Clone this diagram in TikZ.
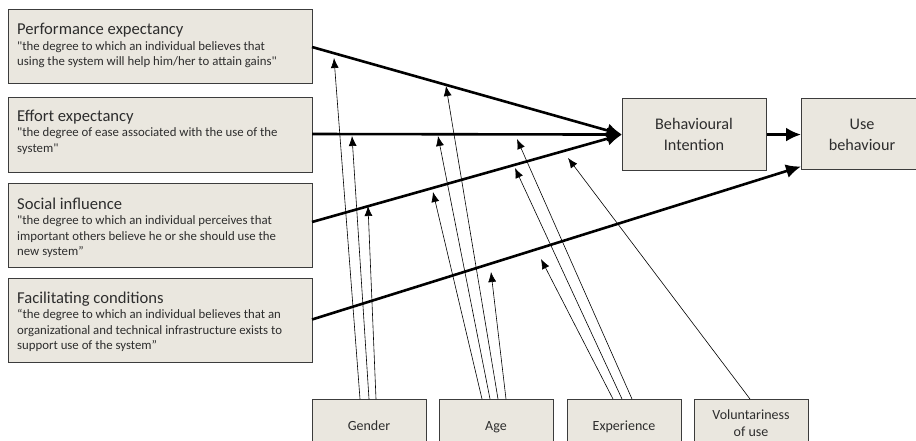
\documentclass[tikz,border=0pt]{standalone}
\usepackage{fontspec}
\setmainfont{Carlito}[Ligatures=TeXOff]
\usetikzlibrary{arrows.meta}
\definecolor{boxfill}{RGB}{234,231,223}
\definecolor{boxline}{RGB}{60,60,60}
\definecolor{txt}{RGB}{45,45,45}
\begin{document}
\begin{tikzpicture}[x=1pt,y=-1pt,
  box/.style={draw=boxline,line width=1.1pt,fill=boxfill,inner sep=0pt,anchor=north west},
  ttl/.style={anchor=base west,inner sep=0pt,text=txt,font=\fontsize{16.6}{19}\selectfont},
  qt/.style={anchor=base west,inner sep=0pt,text=txt,font=\fontsize{12.8}{15}\selectfont},
  lbl/.style={anchor=base,inner sep=0pt,text=txt,font=\fontsize{16.2}{19}\selectfont},
  slbl/.style={anchor=base,inner sep=0pt,text=txt,font=\fontsize{14}{17}\selectfont},
  thick arrow/.style={line width=2.6pt,-{Latex[length=15pt,width=14pt]}},
  thin arrow/.style={line width=0.6pt,-{Latex[length=10pt,width=8pt]}}]
\clip (0,0) rectangle (916,440);
\useasboundingbox (0,0) rectangle (916,440);

% left boxes
\node[box,minimum width=304pt,minimum height=74pt] (pe) at (8,9) {};
\node[box,minimum width=304pt,minimum height=75pt] (ee) at (8,97) {};
\node[box,minimum width=304pt,minimum height=84pt] (si) at (8,183) {};
\node[box,minimum width=304pt,minimum height=84pt] (fc) at (8,278) {};

\node[ttl] (pet) at (17,34) {Performance expectancy};
\node[qt] (peq1) at (17,50) {"the degree to which an individual believes that};
\node[qt] (peq2) at (17,65.5) {using the system will help him/her to attain gains"};

\node[ttl] (eet) at (17,121) {Effort expectancy};
\node[qt] (eeq1) at (17,136.5) {"the degree of ease associated with the use of the};
\node[qt] (eeq2) at (17,152) {system"};

\node[ttl] (sit) at (17,209) {Social influence};
\node[qt] (siq1) at (17,224.5) {"the degree to which an individual perceives that};
\node[qt] (siq2) at (17,240) {important others believe he or she should use the};
\node[qt] (siq3) at (17,255.5) {new system”};

\node[ttl] (fct) at (17,303) {Facilitating conditions};
\node[qt] (fcq1) at (17,318.5) {“the degree to which an individual believes that an};
\node[qt] (fcq2) at (17,334) {organizational and technical infrastructure exists to};
\node[qt] (fcq3) at (17,349.5) {support use of the system”};

% right boxes
\node[box,minimum width=144pt,minimum height=72pt] (bi) at (622,98) {};
\node[lbl] (bit1) at (694,129) {Behavioural};
\node[lbl] (bit2) at (694,150) {Intention};
\node[box,minimum width=122pt,minimum height=71pt] (ub) at (801,98) {};
\node[lbl] (ubt1) at (862,129) {Use};
\node[lbl] (ubt2) at (862,150) {behaviour};

% bottom boxes
\node[box,minimum width=114pt,minimum height=60pt] (gd) at (312,399) {};
\node[box,minimum width=114pt,minimum height=60pt] (ag) at (439,399) {};
\node[box,minimum width=114pt,minimum height=60pt] (ex) at (567,399) {};
\node[box,minimum width=114pt,minimum height=60pt] (vu) at (694,399) {};
\node[slbl] (gdt) at (369,430) {Gender};
\node[slbl] (agt) at (496,430) {Age};
\node[slbl] (ext) at (624,430) {Experience};
\node[slbl] (vut1) at (751,419) {Voluntariness};
\node[slbl] (vut2) at (751,436) {of use};

% main arrows
\coordinate (pes) at (312,47);
\coordinate (ees) at (312,134);
\coordinate (sis) at (312,222);
\coordinate (fcs) at (312,319.5);
\coordinate (ubin) at (801,166.5);
\draw[thick arrow] (pes) -- (bi.west);
\draw[thick arrow] (ees) -- (bi.west);
\draw[thick arrow] (sis) -- (bi.west);
\draw[thick arrow] (bi.east) -- (bi.east -| ub.west);
\draw[thick arrow] (fcs) -- (ubin);

% moderator arrows
\coordinate (g1) at (360,399); \coordinate (tg1) at (334,58);
\coordinate (g2) at (369,399); \coordinate (tg2) at (352,136);
\coordinate (g3) at (376,399); \coordinate (tg3) at (368,206);
\coordinate (a1) at (498,399); \coordinate (ta1) at (446,86);
\coordinate (a2) at (490,399); \coordinate (ta2) at (438,136);
\coordinate (a3) at (482,399); \coordinate (ta3) at (433,192);
\coordinate (a4) at (506,399); \coordinate (ta4) at (491,272);
\coordinate (e1) at (632,399); \coordinate (te1) at (517,139);
\coordinate (e2) at (622,399); \coordinate (te2) at (515,168);
\coordinate (e3) at (613,399); \coordinate (te3) at (541,259);
\coordinate (v1) at (750,399); \coordinate (tv1) at (568,158);
\foreach \s/\t in {g1/tg1,g2/tg2,g3/tg3,a1/ta1,a2/ta2,a3/ta3,a4/ta4,e1/te1,e2/te2,e3/te3,v1/tv1}
  \draw[thin arrow] (\s) -- (\t);
\end{tikzpicture}
\end{document}
